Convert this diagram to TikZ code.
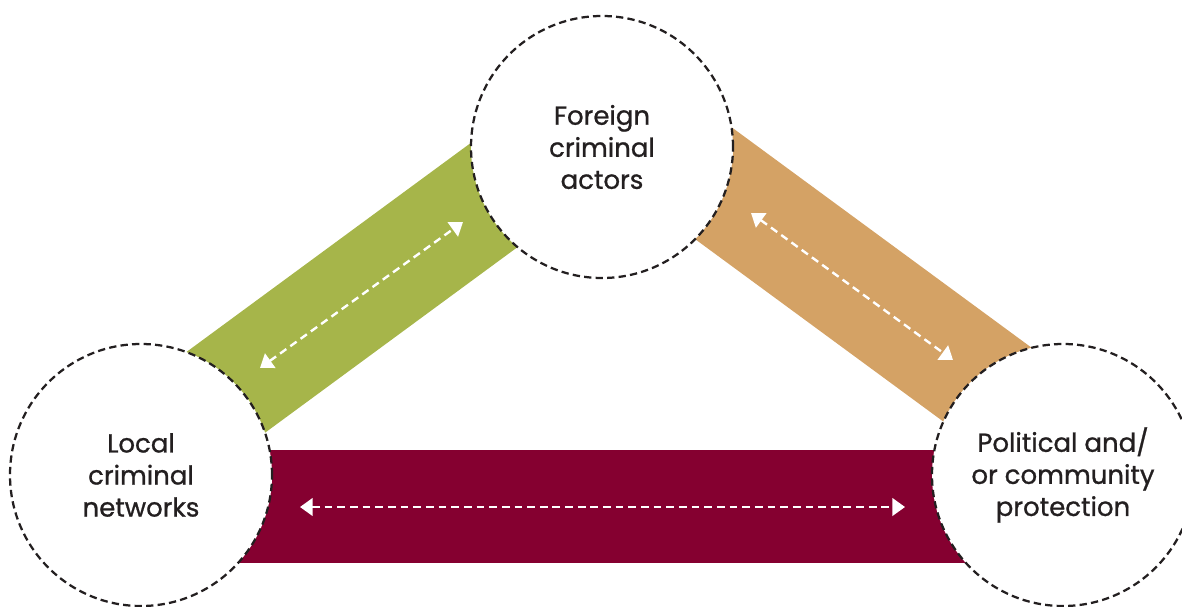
\documentclass[tikz,border=0pt]{standalone}
\usepackage{fontspec}
\setmainfont{Poppins}
\newfontfamily\labelfont{Poppins}[FakeBold=0.9]
\usetikzlibrary{arrows.meta,shapes}

\definecolor{olivegreen}{HTML}{A6B54A}
\definecolor{sand}{HTML}{D4A265}
\definecolor{wine}{HTML}{850030}
\definecolor{ink}{HTML}{231F20}

\begin{document}
\begin{tikzpicture}[x=0.25mm,y=-0.25mm,
  actor/.style={circle,draw=ink,fill=white,line width=1.6pt,dash pattern=on 5.2pt off 3pt,
    minimum size=65.5mm,inner sep=0pt,align=center,text=ink,
    font=\labelfont\fontsize{18.5}{22.8}\selectfont},
  link/.style={white,line width=1.7pt,dash pattern=on 5.5pt off 3.5pt,
    {Triangle[length=9pt,width=12.5pt]}-{Triangle[length=9pt,width=12.5pt]}}]
\useasboundingbox (0,0) rectangle (1182,606);
% bands
\fill[olivegreen] (141,385.4) -- (602,46.5) -- (602,185) -- (141,523.9) -- cycle;
\fill[sand] (602,32) -- (1063,370.8) -- (1063,509.5) -- (602,170.7) -- cycle;
\fill[wine] (141,450) rectangle (1063,563);
% the three circles
\node[actor] (foreign) at (602,147) {Foreign\\criminal\\actors};
\node[actor] (local) at (141,475) {Local\\criminal\\networks};
\node[actor] (political) at (1063,475) {Political and/\\or community\\protection};
% arrow ends
\coordinate (gl) at (260,368);
\coordinate (gt) at (463,222);
\coordinate (st) at (751,213);
\coordinate (sr) at (953,360);
\coordinate (wl) at (300,507);
\coordinate (wr) at (905,507);
\draw[link] (gl) -- (gt);
\draw[link] (st) -- (sr);
\draw[link] (wl) -- (wr);
\end{tikzpicture}
\end{document}
